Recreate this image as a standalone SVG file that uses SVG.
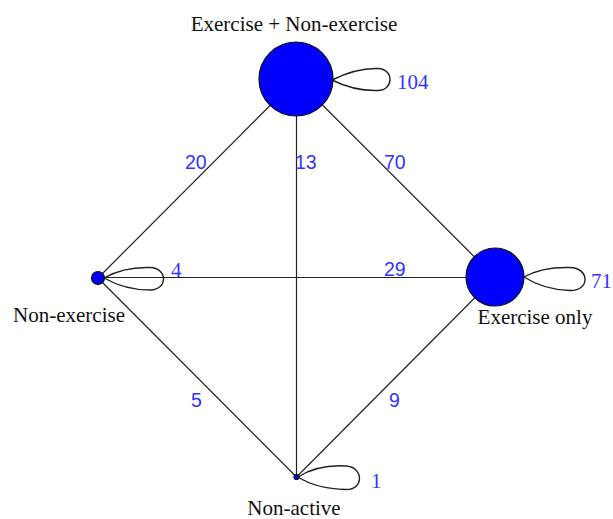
<svg xmlns="http://www.w3.org/2000/svg" width="613" height="519" viewBox="0 0 613 519">
<style>
.edge{stroke:#222;stroke-width:1.2;fill:none}
.loop{stroke:#222;stroke-width:1.4;fill:none}
.node{fill:#0000ff;stroke:#111;stroke-width:1.2}
.nlab{font-family:"Liberation Serif",serif;font-size:21px;fill:#111}
.llab{font-family:"Liberation Serif",serif;font-size:21px;fill:#3333ff}
.elab{font-family:"Liberation Sans",sans-serif;font-size:19.5px;fill:#3333ff}
</style>
<rect width="613" height="519" fill="#fff"/>
<g id="connectors">
<line class="edge" x1="296.5" y1="79" x2="98" y2="278"/>
<line class="edge" x1="296.5" y1="79" x2="296.5" y2="477"/>
<line class="edge" x1="296.5" y1="79" x2="495" y2="277.5"/>
<line class="edge" x1="98" y1="277.5" x2="495" y2="277.5"/>
<line class="edge" x1="98" y1="278" x2="296.5" y2="477"/>
<line class="edge" x1="495" y1="277.5" x2="296.5" y2="477"/>
<path class="loop" d="M332,80 C348,72 362,68 378,68.5 C394,69 394,90 378,90.5 C362,91 348,88 332,80 Z"/>
<path class="loop" d="M104,278 C118,270 132,267 150,267.5 C168,268 168,290 150,290 C132,290 118,286 104,278 Z"/>
<path class="loop" d="M524,277 C538,269 552,267 570,267.5 C590,268 590,291 570,290.5 C552,290 538,286 524,277 Z"/>
<path class="loop" d="M298,477 C312,468 328,465 346,466 C364,467 364,490 346,489.5 C328,489 312,486 298,477 Z"/>
</g>
<g id="node-combined">
<circle class="node" cx="296" cy="79" r="37"/>
<text class="nlab" x="294" y="31" text-anchor="middle">Exercise + Non-exercise</text>
<text class="llab" x="397" y="89">104</text>
</g>
<g id="node-nonexercise">
<circle class="node" cx="98" cy="278" r="6.5"/>
<text class="nlab" x="69" y="322" text-anchor="middle">Non-exercise</text>
<text class="llab" x="171" y="277">4</text>
</g>
<g id="node-exerciseonly">
<circle class="node" cx="495" cy="277" r="29"/>
<text class="nlab" x="535" y="324" text-anchor="middle">Exercise only</text>
<text class="llab" x="591" y="288">71</text>
</g>
<g id="node-nonactive">
<circle class="node" cx="296.5" cy="477" r="2.5"/>
<text class="nlab" x="294" y="515" text-anchor="middle">Non-active</text>
<text class="llab" x="371" y="488">1</text>
</g>
<g id="edge-labels">
<text class="elab" x="185" y="169">20</text>
<text class="elab" x="295" y="169">13</text>
<text class="elab" x="384" y="169">70</text>
<text class="elab" x="384" y="276">29</text>
<text class="elab" x="191" y="407">5</text>
<text class="elab" x="389" y="407">9</text>
</g>
</svg>
